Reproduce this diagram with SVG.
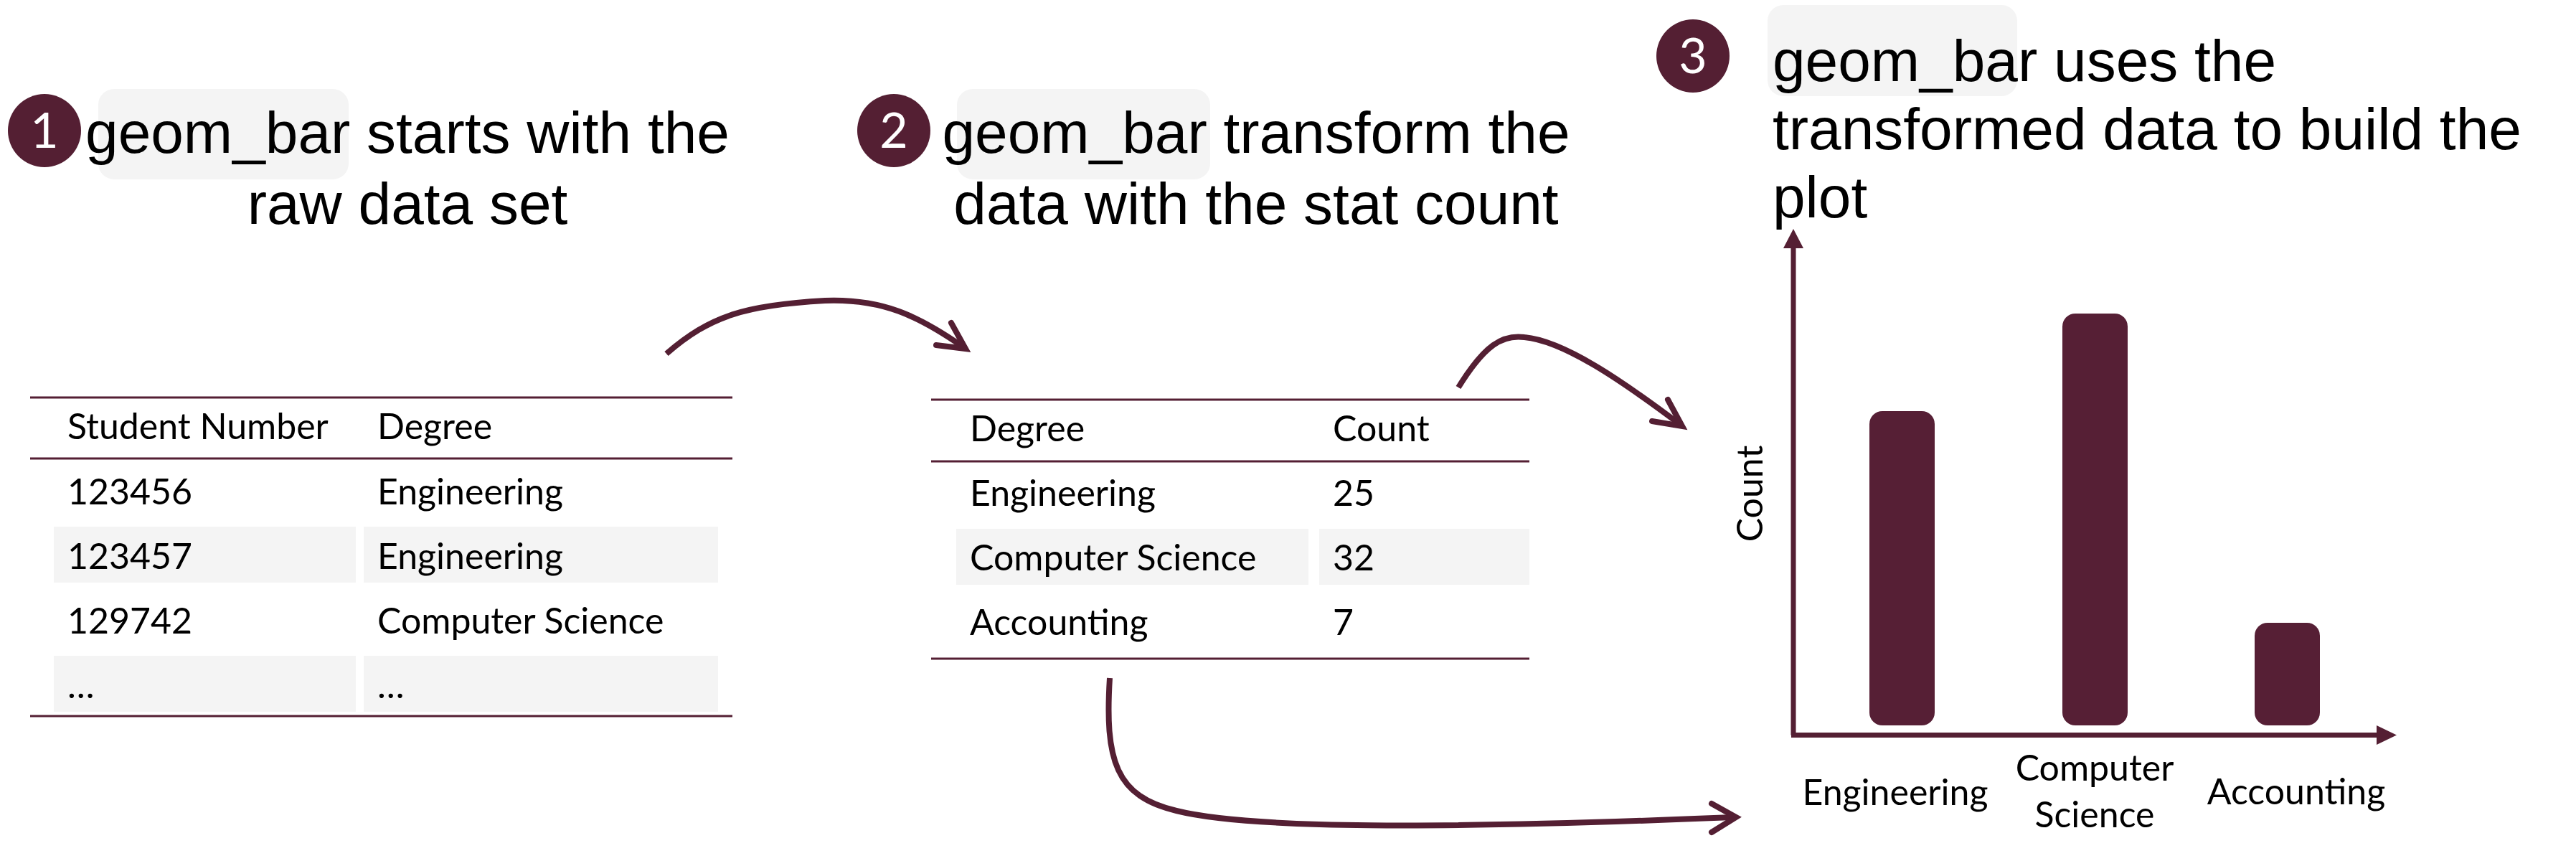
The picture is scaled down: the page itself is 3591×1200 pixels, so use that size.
<svg xmlns="http://www.w3.org/2000/svg" width="3591" height="1200" viewBox="0 0 3591 1200">
<style>
.bg{fill:#ffffff}
.badge{fill:#541f33}
.badgeNum{font-family:Lato,"Open Sans",sans-serif;font-size:68px;fill:#ffffff;text-anchor:middle}
.hl{fill:#f4f4f4}
.title{font-family:"Liberation Sans",Arial,sans-serif;font-size:82px;fill:#000000}
.rule{stroke:#541f33;stroke-width:3;fill:none}
.shade{fill:#f4f4f4}
.cell{font-family:Lato,"Open Sans",sans-serif;font-size:50px;fill:#000000}
.lbl{font-family:Lato,"Open Sans",sans-serif;font-size:50px;fill:#000000;text-anchor:middle}
.bar{fill:#561f35}
.axis{stroke:#541f33;stroke-width:7;fill:none}
.axhead{fill:#541f33}
.conn{stroke:#541f33;stroke-width:8;fill:none}
.head{stroke:#541f33;stroke-width:8;fill:none;stroke-linecap:round;stroke-linejoin:miter}
</style>
<rect class="bg" x="0" y="0" width="3591" height="1200"/>

<g id="step1-title">
  <rect class="hl" x="137" y="124" width="349" height="126" rx="22"/>
  <circle class="badge" cx="62" cy="182" r="51"/>
  <text class="badgeNum" x="62" y="206">1</text>
  <text class="title" x="568" y="213" text-anchor="middle">geom_bar starts with the</text>
  <text class="title" x="568" y="312" text-anchor="middle">raw data set</text>
</g>

<g id="step2-title">
  <rect class="hl" x="1334" y="124" width="353" height="126" rx="22"/>
  <circle class="badge" cx="1246" cy="182" r="51"/>
  <text class="badgeNum" x="1246" y="206">2</text>
  <text class="title" x="1751" y="213" text-anchor="middle">geom_bar transform the</text>
  <text class="title" x="1751" y="312" text-anchor="middle">data with the stat count</text>
</g>

<g id="step3-title">
  <rect class="hl" x="2464" y="7" width="348" height="127" rx="22"/>
  <circle class="badge" cx="2360" cy="78" r="51"/>
  <text class="badgeNum" x="2360" y="102">3</text>
  <text class="title" x="2471" y="113">geom_bar uses the</text>
  <text class="title" x="2471" y="208">transformed data to build the</text>
  <text class="title" x="2471" y="303">plot</text>
</g>

<g id="raw-table">
  <rect class="shade" x="75" y="734" width="421" height="78"/>
  <rect class="shade" x="507" y="734" width="494" height="78"/>
  <rect class="shade" x="75" y="914" width="421" height="78"/>
  <rect class="shade" x="507" y="914" width="494" height="78"/>
  <line class="rule" x1="42" y1="554" x2="1021" y2="554"/>
  <line class="rule" x1="42" y1="639" x2="1021" y2="639"/>
  <line class="rule" x1="42" y1="998" x2="1021" y2="998"/>
  <text class="cell" x="94" y="612">Student Number</text>
  <text class="cell" x="526" y="612">Degree</text>
  <text class="cell" x="94" y="703">123456</text>
  <text class="cell" x="526" y="703">Engineering</text>
  <text class="cell" x="94" y="793">123457</text>
  <text class="cell" x="526" y="793">Engineering</text>
  <text class="cell" x="94" y="883">129742</text>
  <text class="cell" x="526" y="883">Computer Science</text>
  <text class="cell" x="94" y="973">…</text>
  <text class="cell" x="526" y="973">…</text>
</g>

<g id="count-table">
  <rect class="shade" x="1333" y="737" width="491" height="78"/>
  <rect class="shade" x="1839" y="737" width="293" height="78"/>
  <line class="rule" x1="1298" y1="557" x2="2132" y2="557"/>
  <line class="rule" x1="1298" y1="643" x2="2132" y2="643"/>
  <line class="rule" x1="1298" y1="918" x2="2132" y2="918"/>
  <text class="cell" x="1352" y="615">Degree</text>
  <text class="cell" x="1858" y="615">Count</text>
  <text class="cell" x="1352" y="705">Engineering</text>
  <text class="cell" x="1858" y="705">25</text>
  <text class="cell" x="1352" y="795">Computer Science</text>
  <text class="cell" x="1858" y="795">32</text>
  <text class="cell" x="1352" y="885">Accounting</text>
  <text class="cell" x="1858" y="885">7</text>
</g>

<g id="bar-chart">
  <rect class="bar" x="2606" y="573" width="91" height="438" rx="18"/>
  <rect class="bar" x="2875" y="437" width="91" height="574" rx="18"/>
  <rect class="bar" x="3143" y="868" width="91" height="143" rx="18"/>
  <path class="axis" d="M2500,1024.5 L2500,343"/>
  <polygon class="axhead" points="2500,319 2486,346 2514,346"/>
  <path class="axis" d="M2497,1024.5 L3316,1024.5"/>
  <polygon class="axhead" points="3341,1024.5 3313,1011 3313,1038"/>
  <text class="lbl" x="0" y="0" transform="translate(2457,688) rotate(-90)">Count</text>
  <text class="lbl" x="2642" y="1122">Engineering</text>
  <text class="lbl" x="2920" y="1088">Computer</text>
  <text class="lbl" x="2920" y="1153">Science</text>
  <text class="lbl" x="3201" y="1121">Accounting</text>
</g>

<g id="connectors">
  <path class="conn" d="M929,493 C990,440 1040,425 1150,419 C1230,416 1280,440 1342,483"/>
  <path class="head" d="M1326,450 L1346,486 L1305,481"/>
  <path class="conn" d="M2033,540 C2070,480 2095,466 2125,470 C2180,475 2260,530 2340,590"/>
  <path class="head" d="M2325,557 L2345,594 L2303,587"/>
  <path class="conn" d="M1547,945 C1540,1060 1555,1110 1640,1130 C1740,1155 2000,1156 2416,1139"/>
  <path class="head" d="M2386,1120 L2420,1139 L2386,1160"/>
</g>
</svg>
